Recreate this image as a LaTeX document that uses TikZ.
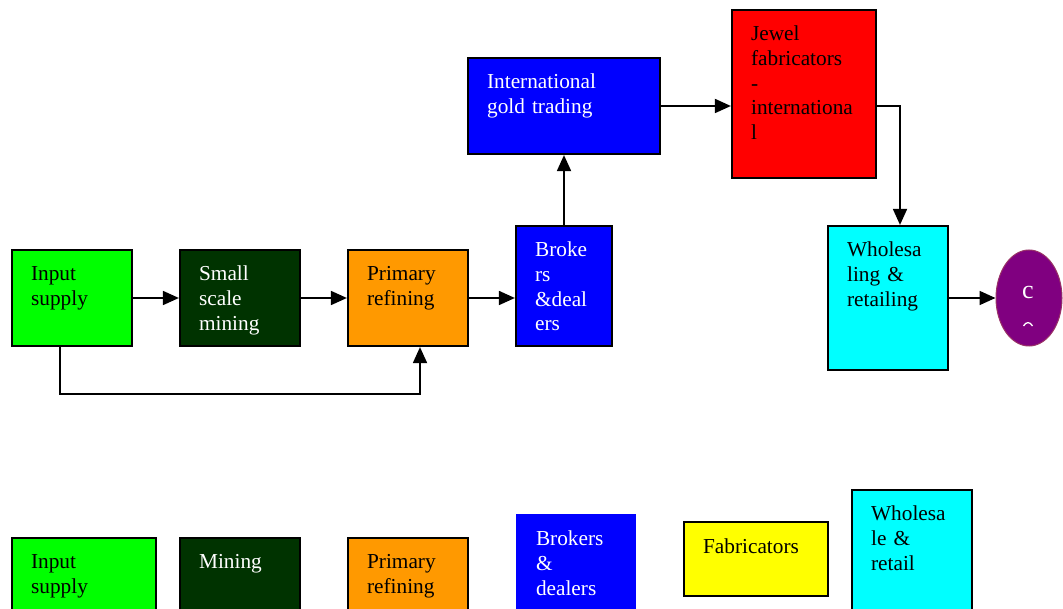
\documentclass[tikz,border=0pt]{standalone}
\usepackage{fontspec}
\setmainfont{Liberation Serif}
\usetikzlibrary{arrows.meta,shapes.geometric}

\definecolor{cgreen}{HTML}{00FF00}
\definecolor{cdark}{HTML}{003300}
\definecolor{corange}{HTML}{FF9900}
\definecolor{cblue}{HTML}{0000FF}
\definecolor{cred}{HTML}{FF0000}
\definecolor{ccyan}{HTML}{00FFFF}
\definecolor{cpurple}{HTML}{800080}
\definecolor{cyellow}{HTML}{FFFF00}
\definecolor{crim}{HTML}{993366}

\tikzset{
  stagebox/.style={rectangle, draw=black, line width=2.2pt, inner sep=0pt},
  plainbox/.style={rectangle, inner sep=0pt},
  lbl/.style={anchor=base west, inner sep=0pt, text width=160pt, align=left,
              font=\fontsize{21.3}{24.6}\selectfont},
  link/.style={line width=1.8pt, -{Triangle[length=16pt,width=14pt]}},
}

\begin{document}
\begin{tikzpicture}[x=1pt,y=-1pt]
  \useasboundingbox (0,0) rectangle (1063,609);
  \clip (0,0) rectangle (1063,609);

  % ---- value chain (upper flow) ----
  \node[stagebox, fill=cgreen,  minimum width=120pt, minimum height=96pt]  (in1)    at (72,298)  {};
  \node[stagebox, fill=cdark,   minimum width=120pt, minimum height=96pt]  (mine1)  at (240,298) {};
  \node[stagebox, fill=corange, minimum width=120pt, minimum height=96pt]  (ref1)   at (408,298) {};
  \node[stagebox, fill=cblue,   minimum width=96pt,  minimum height=120pt] (brk1)   at (564,286) {};
  \node[stagebox, fill=cblue,   minimum width=192pt, minimum height=96pt]  (intl)   at (564,106) {};
  \node[stagebox, fill=cred,    minimum width=144pt, minimum height=168pt] (jewel)  at (804,94)  {};
  \node[stagebox, fill=ccyan,   minimum width=120pt, minimum height=144pt] (whole1) at (888,298) {};
  \node[ellipse, draw=crim, line width=1pt, fill=cpurple, inner sep=0pt,
        minimum width=66pt, minimum height=96pt] (cons) at (1029,298) {};

  \node[lbl] at ([shift={(20,32)}]in1.north west)    {Input\\supply};
  \node[lbl, text=white] at ([shift={(20,32)}]mine1.north west) {Small\\scale\\mining};
  \node[lbl] at ([shift={(20,32)}]ref1.north west)   {Primary\\refining};
  \node[lbl, text=white] at ([shift={(20,32)}]brk1.north west)  {Broke\\rs\\\&deal\\ers};
  \node[lbl, text=white] at ([shift={(20,32)}]intl.north west)  {International\\gold trading};
  \node[lbl] at ([shift={(20,32)}]jewel.north west)  {Jewel\\fabricators\\-\\internationa\\l};
  \node[lbl] at ([shift={(20,32)}]whole1.north west) {Wholesa\\ling \&\\retailing};
  \node[inner sep=0pt, text=white, font=\fontsize{26}{26}\selectfont] (consc) at (1028,293) {c};
  \draw[white, line width=1.3pt] (1023.5,326) .. controls (1026,321.5) and (1030,321.5) .. (1032.5,326);

  \draw[link] (in1.east) -- (mine1.west);
  \draw[link] (mine1.east) -- (ref1.west);
  \draw[link] (ref1.east) -- (ref1.east -| brk1.west);
  \draw[link] ([xshift=-12pt]in1.south) -- ++(0,47) -| ([xshift=12pt]ref1.south);
  \draw[link] (brk1.north) -- (intl.south);
  \draw[link] (intl.east) -- (intl.east -| jewel.west);
  \draw[link] ([yshift=-12pt]jewel.east) -| ([xshift=12pt]whole1.north);
  \draw[link] (whole1.east) -- (cons.west);

  % ---- simplified chain (lower row) ----
  \node[stagebox, fill=cgreen,  minimum width=144pt, minimum height=96pt]  (in2)    at (84,586)  {};
  \node[stagebox, fill=cdark,   minimum width=120pt, minimum height=96pt]  (mine2)  at (240,586) {};
  \node[stagebox, fill=corange, minimum width=120pt, minimum height=96pt]  (ref2)   at (408,586) {};
  \node[plainbox, fill=cblue,   minimum width=120pt, minimum height=120pt] (brk2)   at (576,574) {};
  \node[stagebox, fill=cyellow, minimum width=144pt, minimum height=74pt]  (fab)    at (756,559) {};
  \node[stagebox, fill=ccyan,   minimum width=120pt, minimum height=144pt] (whole2) at (912,562) {};

  \node[lbl] at ([shift={(20,32)}]in2.north west)    {Input\\supply};
  \node[lbl, text=white] at ([shift={(20,32)}]mine2.north west) {Mining};
  \node[lbl] at ([shift={(20,32)}]ref2.north west)   {Primary\\refining};
  \node[lbl, text=white] at ([shift={(20,32)}]brk2.north west)  {Brokers\\\&\\dealers};
  \node[lbl] at ([shift={(20,33)}]fab.north west)    {Fabricators};
  \node[lbl] at ([shift={(20,32)}]whole2.north west) {Wholesa\\le \&\\retail};
\end{tikzpicture}
\end{document}
